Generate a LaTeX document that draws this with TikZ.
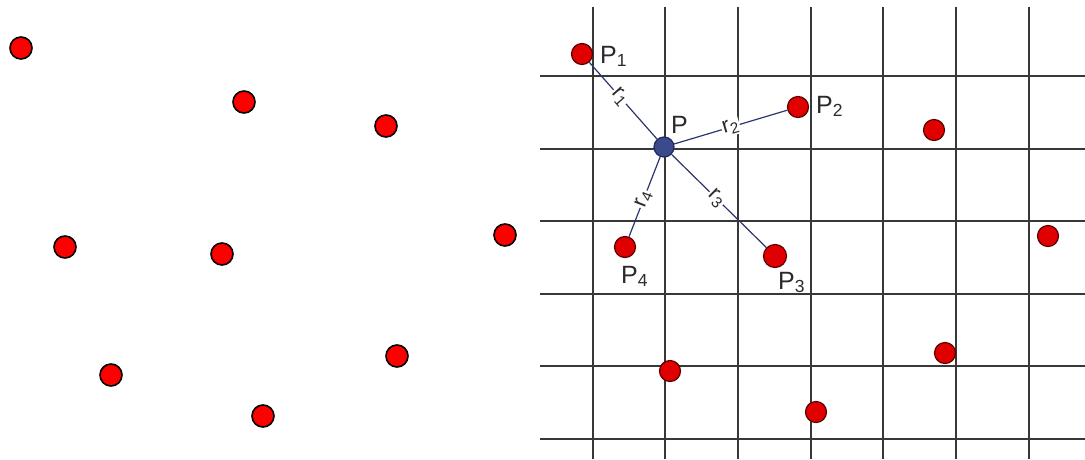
\documentclass[tikz,border=0pt]{standalone}
\usepackage{fontspec}
\setmainfont{Liberation Sans}
\definecolor{linkblue}{HTML}{2B3570}
\definecolor{pblue}{HTML}{3B4A8C}
\definecolor{txt}{HTML}{2A2A2A}
\begin{document}
\begin{tikzpicture}[x=1pt,y=-1pt,
  gridline/.style={line width=2pt, draw=black!78},
  dotl/.style={circle, fill=red, draw=black, line width=1.6pt, minimum size=22pt, inner sep=0pt},
  dotr/.style={circle, fill=red!88!black, draw=red!35!black, line width=1.2pt, minimum size=21pt, inner sep=0pt},
  dotp/.style={circle, fill=pblue, draw=linkblue!80!black, line width=1.2pt, minimum size=20pt, inner sep=0pt},
  link/.style={draw=linkblue, line width=1.2pt},
  lbl/.style={font=\fontsize{25}{28}\selectfont, text=txt, inner sep=0pt, anchor=base west},
  rlbl/.style={font=\fontsize{22}{24}\selectfont, text=txt, fill=white, inner sep=1pt, sloped}
]
\useasboundingbox (0,0) rectangle (1085,459);
% left panel
\node[dotl] (l1) at (21,48) {};
\node[dotl] (l2) at (244,102) {};
\node[dotl] (l3) at (386,126) {};
\node[dotl] (l4) at (65,247) {};
\node[dotl] (l5) at (222,254) {};
\node[dotl] (l6) at (505,235) {};
\node[dotl] (l7) at (111,375) {};
\node[dotl] (l8) at (397,356) {};
\node[dotl] (l9) at (263,416) {};
% right panel grid
\foreach \x in {592.5,665.2,737.9,810.6,883.3,956,1028.7}
  \draw[gridline] (\x,7) -- (\x,459);
\foreach \y in {76,148.5,221,293.5,366,438.5}
  \draw[gridline] (540,\y) -- (1085,\y);
% points
\node[dotr] (p1) at (582,54) {};
\node[dotr] (p2) at (798,107) {};
\node[dotp] (p) at (664,147) {};
\node[dotr] (p4) at (625,247) {};
\node[dotr, minimum size=23pt] (p3) at (775,256) {};
\node[dotr] (q1) at (934,130) {};
\node[dotr] (q2) at (1048,236) {};
\node[dotr] (q3) at (945,353) {};
\node[dotr] (q4) at (816,412) {};
\node[dotr] (q5) at (670,371) {};
% links
\draw[link] (p1) -- node[rlbl, pos=0.45] {r\textsubscript{1}} (p);
\draw[link] (p) -- node[rlbl, pos=0.5] {r\textsubscript{2}} (p2);
\draw[link] (p) -- node[rlbl, pos=0.47] {r\textsubscript{3}} (p3);
\draw[link] (p4) -- node[rlbl, pos=0.47] {r\textsubscript{4}} (p);
% labels
\node[lbl] (t1) at (600,63) {P\textsubscript{1}};
\node[lbl] (t2) at (816,113) {P\textsubscript{2}};
\node[lbl] (t0) at (671,133) {P};
\node[lbl] (t4) at (621,283) {P\textsubscript{4}};
\node[lbl] (t3) at (778,289) {P\textsubscript{3}};
\end{tikzpicture}
\end{document}
